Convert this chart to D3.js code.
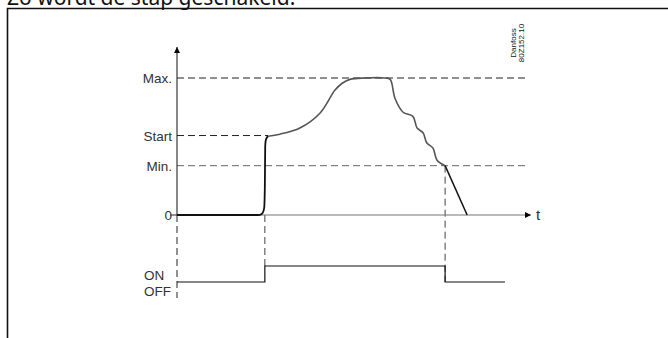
<!DOCTYPE html>
<html>
<head>
<meta charset="utf-8">
<title>Stap schakeling</title>
<script src="https://cdn.jsdelivr.net/npm/d3@7"></script>
<style>
  body { margin: 0; background: #fff; }
  text { font-family: "Liberation Sans", Arial, sans-serif; fill: #333; }
</style>
</head>
<body>
<div id="chart"></div>
<script>
// levels on the y axis (0 = nothing, Max = 100)
var levelNames = ["0", "Min.", "Start", "Max."];
var levelValues = [0, 36, 58, 100];

// time axis runs 0..100
// step up at power on
var riseT = [0, 23.1, 24.3, 24.9, 25.1, 25.2, 25.4, 26];
var riseV = [0, 0, 1, 5, 20, 50, 55, 57.5];
// the loaded curve, start to min
var runT = [26, 29.4, 35.1, 40.9, 45.1, 47.1, 49.4, 53.7, 59.4, 60.9, 62.3, 64.6, 67.4, 68.6, 70.3, 71.4, 73.1, 74.3, 76.6];
var runV = [57.5, 59, 63.5, 74.5, 91, 96, 99, 100, 100, 99, 85, 75, 72, 63.5, 60, 52.5, 49, 40, 36];
// ramp down after switching off
var fallT = [76.6, 82.9];
var fallV = [36, 0];

// ON / OFF signal
var stateNames = ["OFF", "ON"];
var switchT = [0, 25.1, 76.6, 93.7];
var switchS = [0, 1, 0, 0];

var width = 668, height = 338;
var svg = d3.select("#chart").append("svg")
    .attr("width", width).attr("height", height);

// heading, mostly scrolled off the top
svg.append("text").attr("x", 7).attr("y", 5)
    .style("font-family", "'Noto Sans', sans-serif").style("font-size", "21px").style("fill", "#111")
    .text("Zo wordt de stap geschakeld.");

// frame
svg.append("path").attr("d", "M7.5,338V8.5H668")
    .attr("fill", "none").attr("stroke", "#111").attr("stroke-width", 1.6);

var x = d3.scaleLinear().domain([0, 100]).range([177, 527]);
var y = d3.scaleLinear().domain([0, 100]).range([215, 78]);
var sy = d3.scaleLinear().domain([0, 1]).range([282, 266]);

var defs = svg.append("defs");
defs.append("marker").attr("id", "arr").attr("viewBox", "0 0 10 10")
    .attr("refX", 10).attr("refY", 5).attr("markerWidth", 11).attr("markerHeight", 6)
    .attr("markerUnits", "userSpaceOnUse").attr("orient", "auto")
  .append("path").attr("d", "M0,0L10,5L0,10Z").attr("fill", "#000");

// dashed reference levels
var dash = "7,4";
svg.append("line").attr("x1", x(0)).attr("x2", 528).attr("y1", y(levelValues[3])).attr("y2", y(levelValues[3]))
    .attr("stroke", "#222").attr("stroke-dasharray", dash);
svg.append("line").attr("x1", x(0)).attr("x2", x(riseT[riseT.length - 1])).attr("y1", y(levelValues[2])).attr("y2", y(levelValues[2]))
    .attr("stroke", "#222").attr("stroke-dasharray", dash);
svg.append("line").attr("x1", x(0)).attr("x2", 527).attr("y1", y(levelValues[1])).attr("y2", y(levelValues[1]))
    .attr("stroke", "#666").attr("stroke-dasharray", dash);

// dashed verticals down to the signal
svg.append("line").attr("x1", x(0)).attr("x2", x(0)).attr("y1", y(0)).attr("y2", 298)
    .attr("stroke", "#222").attr("stroke-dasharray", dash);
svg.append("line").attr("x1", x(switchT[1])).attr("x2", x(switchT[1])).attr("y1", y(0)).attr("y2", sy(1))
    .attr("stroke", "#444").attr("stroke-dasharray", dash);
svg.append("line").attr("x1", x(switchT[2])).attr("x2", x(switchT[2])).attr("y1", y(levelValues[1])).attr("y2", sy(0))
    .attr("stroke", "#444").attr("stroke-dasharray", dash);

// axes
svg.append("line").attr("x1", 170).attr("x2", x(0)).attr("y1", y(0)).attr("y2", y(0)).attr("stroke", "#222");
svg.append("line").attr("x1", x(0)).attr("x2", 531).attr("y1", y(0)).attr("y2", y(0))
    .attr("stroke", "#777").attr("stroke-width", 1.2).attr("marker-end", "url(#arr)");
svg.append("line").attr("x1", x(0)).attr("x2", x(0)).attr("y1", y(0)).attr("y2", 47)
    .attr("stroke", "#111").attr("marker-end", "url(#arr)");
svg.append("text").attr("x", 536).attr("y", y(0) + 5).style("font-size", "15px").text("t");

// level labels
svg.selectAll(".lvl").data(levelNames).enter().append("text")
    .attr("class", "lvl")
    .attr("x", 172).attr("y", function(d, i) { return y(levelValues[i]) + 5; })
    .attr("text-anchor", "end").style("font-size", "13.5px")
    .text(function(d) { return d; });

// signal labels
svg.selectAll(".st").data(stateNames).enter().append("text")
    .attr("class", "st")
    .attr("x", 144).attr("y", function(d, i) { return i ? 280 : 296; })
    .style("font-size", "13.5px")
    .text(function(d) { return d; });

// the curve in three parts
var line = d3.line()
    .x(function(d) { return x(d[0]); })
    .y(function(d) { return y(d[1]); });
svg.append("path").datum(d3.zip(riseT, riseV))
    .attr("d", line.curve(d3.curveMonotoneX))
    .attr("fill", "none").attr("stroke", "#111").attr("stroke-width", 1.8);
svg.append("path").datum(d3.zip(runT, runV))
    .attr("d", line.curve(d3.curveCatmullRom.alpha(0.5)))
    .attr("fill", "none").attr("stroke", "#555").attr("stroke-width", 1.6);
svg.append("path").datum(d3.zip(fallT, fallV))
    .attr("d", line.curve(d3.curveLinear))
    .attr("fill", "none").attr("stroke", "#111").attr("stroke-width", 1.5);

// ON/OFF step line
var step = d3.line().curve(d3.curveStepAfter)
    .x(function(d) { return x(d[0]); })
    .y(function(d) { return sy(d[1]); });
svg.append("path").datum(d3.zip(switchT, switchS))
    .attr("d", step).attr("fill", "none").attr("stroke", "#111").attr("stroke-width", 1.2);

// drawing number
var code = svg.append("text").attr("transform", "translate(520,43) rotate(-90)")
    .attr("text-anchor", "middle").style("font-size", "8px").style("fill", "#111");
code.append("tspan").attr("x", 0).attr("dy", -4).text("Danfoss");
code.append("tspan").attr("x", 0).attr("dy", 8).text("80Z152.10");
</script>
</body>
</html>
